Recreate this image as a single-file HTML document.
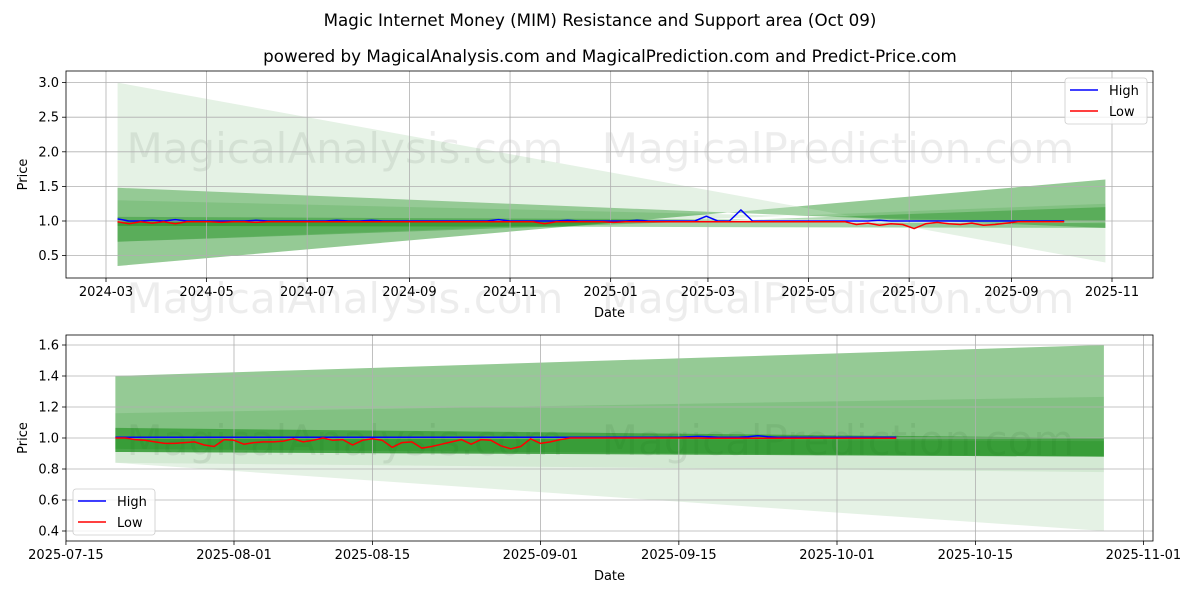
<!DOCTYPE html>
<html><head><meta charset="utf-8">
<style>
html,body{margin:0;padding:0;background:#fff;}
svg{display:block;font-family:"DejaVu Sans","Liberation Sans",sans-serif;}
</style></head>
<body>
<svg id="c" width="1200" height="600" viewBox="0 0 1200 600">
<rect width="1200" height="600" fill="#fff"/>
<text x="600" y="26" text-anchor="middle" font-size="16.7">Magic Internet Money (MIM) Resistance and Support area (Oct 09)</text>
<text x="610" y="62" text-anchor="middle" font-size="16.7">powered by MagicalAnalysis.com and MagicalPrediction.com and Predict-Price.com</text>
</svg>
<script>
// ---- top chart data ----
const topTickLabels = ["2024-03","2024-05","2024-07","2024-09","2024-11","2025-01","2025-03","2025-05","2025-07","2025-09","2025-11"];
const topTickDates = ["2024-03-01","2024-05-01","2024-07-01","2024-09-01","2024-11-01","2025-01-01","2025-03-01","2025-05-01","2025-07-01","2025-09-01","2025-11-01"];
const topYTicks = [0.5,1.0,1.5,2.0,2.5,3.0];
const topStart = "2024-03-08";
const topBandEnd = "2025-10-28";
const topHigh = [1.03,1.0,1.0,1.01,1.0,1.02,1.0,1.0,1.0,1.0,1.0,1.0,1.01,1.0,1.0,1.0,1.0,1.0,1.0,1.01,1.0,1.0,1.01,1.0,1.0,1.0,1.0,1.0,1.0,1.0,1.0,1.0,1.0,1.02,1.0,1.0,1.0,1.0,1.0,1.01,1.0,1.0,1.0,1.0,1.0,1.01,1.0,1.0,1.0,1.0,1.0,1.07,1.0,1.0,1.16,1.0,1.0,1.0,1.0,1.0,1.0,1.0,1.0,1.0,1.0,1.0,1.01,1.0,1.0,1.0,1.0,1.0,1.0,1.0,1.0,1.0,1.0,1.0,1.0,1.0,1.0,1.0,1.0];
const topLow = [0.99,0.96,0.99,0.97,0.99,0.96,0.99,0.99,0.99,0.98,0.99,0.99,0.98,0.99,0.99,0.99,0.99,0.99,0.99,0.99,0.99,0.99,0.99,0.99,0.99,0.99,0.99,0.99,0.99,0.99,0.99,0.99,0.99,0.99,0.99,0.99,0.99,0.96,0.99,0.99,0.99,0.99,0.99,0.98,0.99,0.99,0.99,0.99,0.99,0.99,0.99,0.99,0.99,0.99,0.99,0.99,0.99,0.99,0.99,0.99,0.99,0.99,0.99,0.99,0.95,0.97,0.94,0.96,0.95,0.89,0.96,0.98,0.96,0.95,0.97,0.94,0.95,0.97,0.99,0.99,0.99,0.99,0.99];
// bands: [line1 left, line1 right, line2 left, line2 right]
const topBandL1a = [3.0,1.48,1.3,1.06,1.0];
const topBandL1b = [0.4,0.9,0.97,1.0,0.97];
const topBandL2a = [0.35,0.35,0.7,0.7,0.93];
const topBandL2b = [1.6,1.6,1.25,1.2,0.9];
const topBandAlpha = [0.1,0.35,0.12,0.3,0.35];
// ---- bottom chart data ----
const botTickLabels = ["2025-07-15","2025-08-01","2025-08-15","2025-09-01","2025-09-15","2025-10-01","2025-10-15","2025-11-01"];
const botTickDates = ["2025-07-15","2025-08-01","2025-08-15","2025-09-01","2025-09-15","2025-10-01","2025-10-15","2025-11-01"];
const botYTicks = [0.4,0.6,0.8,1.0,1.2,1.4,1.6];
const botStart = "2025-07-20";
const botBandEnd = "2025-10-28";
const botLow = [1.0,1.0,0.99,0.985,0.975,0.965,0.965,0.97,0.975,0.955,0.945,0.99,0.985,0.96,0.97,0.975,0.975,0.98,0.995,0.975,0.985,1.0,0.985,0.99,0.955,0.985,0.995,0.985,0.94,0.97,0.975,0.935,0.945,0.96,0.975,0.99,0.96,0.99,0.985,0.95,0.93,0.945,0.995,0.965,0.975,0.99,1.0,1.0,1.0,1.0,1.0,1.0,1.0,1.0,1.0,1.0,1.0,1.0,1.0,1.0,0.998,0.998,0.998,0.998,0.998,0.998,0.998,0.998,0.998,0.998,0.998,0.998,0.998,0.998,0.998,0.998,0.998,0.998,0.998,0.998];
const botHigh = [1.005,1.005,1.005,1.005,1.005,1.005,1.005,1.005,1.005,1.005,1.005,1.005,1.005,1.005,1.005,1.005,1.005,1.005,1.005,1.005,1.005,1.005,1.005,1.005,1.005,1.005,1.005,1.005,1.005,1.005,1.005,1.005,1.005,1.005,1.005,1.005,1.005,1.005,1.005,1.005,1.005,1.005,1.005,1.005,1.005,1.005,1.005,1.005,1.005,1.005,1.005,1.005,1.005,1.005,1.005,1.005,1.005,1.005,1.008,1.01,1.008,1.005,1.005,1.005,1.008,1.015,1.008,1.005,1.005,1.005,1.005,1.005,1.005,1.005,1.005,1.005,1.005,1.005,1.005,1.005];
const botBandL1a = [1.4,1.4,1.16,1.065,1.0,0.91];
const botBandL1b = [1.6,1.6,1.265,1.0,0.98,0.88];
const botBandL2a = [0.84,0.91,0.91,0.91,0.93,0.84];
const botBandL2b = [0.4,0.88,0.88,0.88,0.88,0.78];
const botBandAlpha = [0.1,0.35,0.12,0.45,0.2,0.08];

const NS="http://www.w3.org/2000/svg";
const svg=document.getElementById('c');
function el(tag,attrs,parent){const e=document.createElementNS(NS,tag);for(const k in attrs)e.setAttribute(k,attrs[k]);(parent||svg).appendChild(e);return e;}
function dayNum(s){return Date.parse(s+"T00:00:00Z")/86400000;}

function drawPanel(cfg){
  const g=el('g',{});
  
  
  const {x0,x1,y0,y1}=cfg;
  const xs=d=>cfg.xa+(d-cfg.xd0)*cfg.xk;
  const ys=v=>cfg.ya-(v-cfg.yv0)*cfg.yk;
  cfg.marks.forEach(m=>{
    const t=el('text',{x:m[0],y:m[1],'text-anchor':'middle','font-size':42,fill:'#000','fill-opacity':0.07},g);
    t.textContent=m[2];
    
    
  });
  const bx0=xs(dayNum(cfg.start)), bx1=xs(dayNum(cfg.bandEnd));
  for(let i=0;i<cfg.a1.length;i++){
    const p=el('polygon',{points:`${bx0},${ys(cfg.a1[i])} ${bx1},${ys(cfg.b1[i])} ${bx1},${ys(cfg.b2[i])} ${bx0},${ys(cfg.a2[i])}`,fill:'#008000','fill-opacity':cfg.alpha[i]},g);
    
    
  }
  cfg.tickDates.forEach((d,i)=>{
    const x=xs(dayNum(d));
    el('line',{x1:x,x2:x,y1:y0,y2:y1,stroke:'#b0b0b0','stroke-width':0.8},g);
    el('line',{x1:x,x2:x,y1:y1,y2:y1+4,stroke:'#000','stroke-width':0.8},g);
    const t=el('text',{x:x,y:y1+18,'text-anchor':'middle','font-size':13},g);
    t.textContent=cfg.tickLabels[i];
    
    
  });
  cfg.yTicks.forEach(v=>{
    const y=ys(v);
    el('line',{x1:x0,x2:x1,y1:y,y2:y,stroke:'#b0b0b0','stroke-width':0.8},g);
    el('line',{x1:x0-4,x2:x0,y1:y,y2:y,stroke:'#000','stroke-width':0.8},g);
    const t=el('text',{x:x0-7,y:y+4.5,'text-anchor':'end','font-size':13},g);
    t.textContent=v.toFixed(1);
    
    
  });
  const sd=dayNum(cfg.start);
  const mk=(arr,col,name)=>{
    const pts=arr.map((v,i)=>`${xs(sd+i*cfg.step).toFixed(1)},${ys(v).toFixed(1)}`).join(' ');
    const p=el('polyline',{points:pts,fill:'none',stroke:col,'stroke-width':1.5,'stroke-linejoin':'round'},g);
    
    
  };
  mk(cfg.high,'#0000ff','high-line');
  mk(cfg.low,'#ff0000','low-line');
  el('rect',{x:x0,y:y0,width:x1-x0,height:y1-y0,fill:'none',stroke:'#000','stroke-width':0.8},g);
  const xl=el('text',{x:(x0+x1)/2,y:y1+39,'text-anchor':'middle','font-size':13},g);
  xl.textContent='Date';
  
  
  const yl=el('text',{x:0,y:0,'text-anchor':'middle','font-size':13,transform:`translate(${cfg.ylx},${(y0+y1)/2}) rotate(-90)`},g);
  yl.textContent='Price';
  
  
  const [lx,ly]=cfg.legend;
  const lg=el('g',{},g);
  
  
  el('rect',{x:lx,y:ly,width:82,height:46,rx:3,fill:'#fff','fill-opacity':0.8,stroke:'#ccc','stroke-width':0.8},lg);
  [['High','#0000ff'],['Low','#ff0000']].forEach((e,i)=>{
    const yy=ly+12+i*21;
    el('line',{x1:lx+5,x2:lx+33,y1:yy,y2:yy,stroke:e[1],'stroke-width':1.5},lg);
    const t=el('text',{x:lx+44,y:yy+5,'font-size':13},lg);
    t.textContent=e[0];
    
    
  });
}

drawPanel({name:'top-panel',x0:66,x1:1153,y0:71,y1:278,
  xa:106,xd0:dayNum("2024-03-01"),xk:(1112-106)/610,ya:221,yv0:1.0,yk:69.2,
  start:topStart,bandEnd:topBandEnd,step:7,high:topHigh,low:topLow,
  a1:topBandL1a,b1:topBandL1b,a2:topBandL2a,b2:topBandL2b,alpha:topBandAlpha,
  tickDates:topTickDates,tickLabels:topTickLabels,yTicks:topYTicks,ylx:27,legend:[1065,78],
  marks:[[345,163,'MagicalAnalysis.com'],[838,163,'MagicalPrediction.com'],[345,313,'MagicalAnalysis.com'],[838,313,'MagicalPrediction.com']]});
drawPanel({name:'bottom-panel',x0:66,x1:1153,y0:335,y1:541,
  xa:234,xd0:dayNum("2025-08-01"),xk:(837-234)/61,ya:438,yv0:1.0,yk:155,
  start:botStart,bandEnd:botBandEnd,step:1,high:botHigh,low:botLow,
  a1:botBandL1a,b1:botBandL1b,a2:botBandL2a,b2:botBandL2b,alpha:botBandAlpha,
  tickDates:botTickDates,tickLabels:botTickLabels,yTicks:botYTicks,ylx:27,legend:[73,489],
  marks:[[345,455,'MagicalAnalysis.com'],[838,455,'MagicalPrediction.com']]});
</script>
</body></html>
